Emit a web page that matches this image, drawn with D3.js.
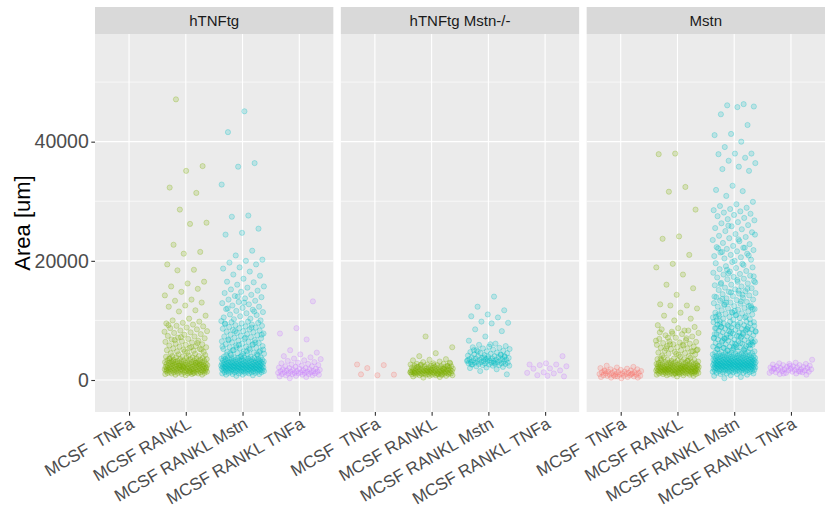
<!DOCTYPE html>
<html>
<head>
<meta charset="utf-8">
<script src="https://cdn.jsdelivr.net/npm/d3@7"></script>
<style>
  html, body { margin: 0; padding: 0; background: #ffffff; }
  svg { display: block; font-family: "Liberation Sans", Arial, sans-serif; }
</style>
</head>
<body>
<svg id="chart" width="833" height="512"></svg>
<script>
// ---------------- DATA (area values in thousands of um) ----------------
const facets = ["hTNFtg", "hTNFtg Mstn-/-", "Mstn"];
const treatments = ["MCSF  TNFa", "MCSF RANKL", "MCSF RANKL Mstn", "MCSF RANKL TNFa"];
const colors = ["#F8766D", "#7CAE00", "#00BFC4", "#C77CFF"];
const yTicks = [0, 20000, 40000];

// facet 1: hTNFtg
const hTNFtg_TNFa = [];
const hTNFtg_RANKL = [47.1,35.9,35.1,32.3,31.4,28.6,26.4,26.2,22.7,21.5,21.2,19.4,18.5,18.4,16.5,16.2,15.7,15.3,14.8,14.2,13.5,13.3,13.0,12.5,12.3,11.7,11.5,10.8,10.3,10.0,
 9.8,9.6,9.5,9.3,9.1,9.0,8.8,8.7,8.5,8.3,8.2,8.0,7.9,7.7,7.6,7.4,7.3,7.1,7.0,6.9,6.8,6.6,6.5,6.4,6.3,6.1,6.0,5.9,5.8,5.7,5.6,5.5,5.4,5.3,5.2,5.1,5.0,4.9,4.8,4.7,4.6,4.5,6.2,7.2,8.1,5.5,6.7,5.1,4.8,9.2,
 4.4,4.3,4.2,4.1,4.0,4.0,3.9,3.9,3.8,3.8,3.7,3.7,3.6,3.6,3.5,3.5,3.5,3.4,3.4,3.3,3.3,3.3,3.2,3.2,3.2,3.1,3.1,3.1,3.0,3.0,3.0,3.0,2.9,2.9,2.9,2.9,2.8,2.8,2.8,2.8,2.7,2.7,2.7,2.7,2.6,2.6,2.6,2.6,2.5,2.5,2.5,2.5,2.5,2.4,2.4,2.4,2.4,2.3,2.3,2.3,2.3,2.3,2.2,2.2,2.2,2.2,2.1,2.1,2.1,2.1,2.1,2.0,2.0,2.0,2.0,2.0,1.9,1.9,1.9,1.9,1.9,1.8,1.8,1.8,1.8,1.8,1.7,1.7,1.7,1.7,1.7,1.6,1.6,1.6,1.6,1.6,1.5,1.5,1.5,1.5,1.5,1.4,1.4,1.4,1.4,1.3,1.3,1.3,1.3,1.2,1.2,1.2,1.2,1.1,1.1,1.1,1.0,1.0,1.0,0.9,0.9,0.8,3.6,2.9,2.4,1.9,1.4,3.1,2.6,2.2,1.7,1.2];
const hTNFtg_Mstn = [45.1,41.6,36.4,35.8,32.8,27.6,27.4,25.4,24.7,24.4,21.7,20.9,20.2,20.0,19.7,19.4,18.9,18.7,18.2,17.7,17.5,17.0,16.5,16.4,16.0,15.7,15.5,15.2,15.0,
 14.8,14.6,14.3,14.1,13.9,13.7,13.5,13.3,13.1,12.9,12.7,12.5,12.3,12.1,11.9,11.8,11.6,11.4,11.2,11.0,10.9,10.7,10.5,10.3,10.2,10.0,13.0,12.0,11.5,14.0,
 9.9,9.8,9.7,9.6,9.5,9.4,9.3,9.2,9.1,9.0,8.9,8.8,8.7,8.6,8.5,8.4,8.3,8.2,8.1,8.0,7.9,7.8,7.7,7.6,7.5,7.4,7.3,7.2,7.1,7.0,6.9,6.8,6.7,6.6,6.5,6.4,6.3,6.2,6.1,6.0,5.9,5.8,5.7,5.6,5.5,5.4,5.3,5.2,5.1,5.0,4.9,4.8,4.7,4.6,4.5,4.4,4.3,4.2,4.1,4.0,9.5,8.8,8.2,7.6,7.1,6.7,6.3,5.9,5.6,5.3,5.0,4.7,4.4,4.2,6.0,5.5,5.1,4.8,4.5,4.3,
 3.9,3.9,3.9,3.8,3.8,3.8,3.7,3.7,3.7,3.6,3.6,3.6,3.5,3.5,3.5,3.5,3.4,3.4,3.4,3.4,3.3,3.3,3.3,3.3,3.2,3.2,3.2,3.2,3.1,3.1,3.1,3.1,3.0,3.0,3.0,3.0,3.0,2.9,2.9,2.9,2.9,2.9,2.8,2.8,2.8,2.8,2.8,2.7,2.7,2.7,2.7,2.7,2.6,2.6,2.6,2.6,2.6,2.5,2.5,2.5,2.5,2.5,2.5,2.4,2.4,2.4,2.4,2.4,2.4,2.3,2.3,2.3,2.3,2.3,2.3,2.2,2.2,2.2,2.2,2.2,2.2,2.1,2.1,2.1,2.1,2.1,2.1,2.0,2.0,2.0,2.0,2.0,2.0,1.9,1.9,1.9,1.9,1.9,1.9,1.8,1.8,1.8,1.8,1.8,1.8,1.7,1.7,1.7,1.7,1.7,1.6,1.6,1.6,1.6,1.6,1.5,1.5,1.5,1.5,1.5,1.4,1.4,1.4,1.4,1.3,1.3,1.3,1.3,1.2,1.2,1.2,1.1,1.1,1.1,1.0,1.0,0.9,0.9,0.8,0.7];
const hTNFtg_TNFa2 = [13.2,8.7,7.8,6.8,5.0,4.6,4.3,4.0,3.8,3.6,3.5,3.3,3.2,3.0,2.9,2.8,2.7,2.6,2.5,2.4,2.3,2.3,2.2,2.1,2.0,2.0,1.9,1.9,1.8,1.8,1.7,1.7,1.6,1.6,1.5,1.5,1.5,1.4,1.4,1.4,1.3,1.3,1.3,1.2,1.2,1.2,1.1,1.1,1.1,1.0,1.0,1.0,0.9,0.9,0.8,0.8,0.7,0.6,0.5,0.3];

// facet 2: hTNFtg Mstn-/-
const ko_TNFa = [2.6,2.5,2.0,0.9,0.8,0.95];
const ko_RANKL = [7.3,5.5,4.5,4.0,3.5,3.4,3.3,3.1,3.0,2.9,2.8,2.7,2.7,2.6,2.6,2.5,2.5,2.4,2.4,2.4,2.3,2.3,2.3,2.2,2.2,2.2,2.1,2.1,2.1,2.0,2.0,2.0,2.0,1.9,1.9,1.9,1.9,1.8,1.8,1.8,1.8,1.8,1.7,1.7,1.7,1.7,1.7,1.6,1.6,1.6,1.6,1.6,1.5,1.5,1.5,1.5,1.5,1.5,1.4,1.4,1.4,1.4,1.4,1.4,1.3,1.3,1.3,1.3,1.3,1.3,1.2,1.2,1.2,1.2,1.2,1.2,1.1,1.1,1.1,1.1,1.1,1.0,1.0,1.0,1.0,1.0,0.9,0.9,0.9,0.9,0.8,0.8,0.8,0.7,0.7,0.6,0.5,0.4,2.8,2.5,2.2,1.9,1.6,1.3,1.0,2.6,2.3,1.7,1.2,0.9];
const ko_Mstn = [14.0,12.3,11.7,11.0,10.7,10.5,9.8,9.6,9.5,8.5,8.2,7.3,6.6,6.1,5.9,5.7,5.6,5.5,5.4,5.3,5.2,5.1,5.0,4.9,4.8,4.7,4.6,4.5,4.5,4.4,4.3,4.2,4.2,4.1,4.0,4.0,3.9,3.9,3.8,3.8,3.7,3.7,3.6,3.6,3.5,3.5,3.5,3.4,3.4,3.4,3.3,3.3,3.3,3.2,3.2,3.2,3.1,3.1,3.1,3.0,3.0,3.0,2.9,2.9,2.9,2.8,2.8,2.8,2.7,2.7,2.7,2.6,2.6,2.5,2.5,2.4,2.4,2.3,2.2,2.1,2.0,1.8,1.5,0.95,6.0,5.0,4.3,3.8,3.3,2.9,4.8,4.0,3.6,2.6];
const ko_TNFa2 = [4.0,2.8,2.6,2.6,2.5,2.3,1.95,1.9,1.6,1.3,1.2,1.1,0.8,0.6,0.7];

// facet 3: Mstn
const mstn_TNFa = [2.4,2.2,2.1,2.0,1.9,1.8,1.8,1.7,1.6,1.6,1.5,1.5,1.4,1.4,1.3,1.3,1.3,1.2,1.2,1.2,1.1,1.1,1.1,1.0,1.0,1.0,0.9,0.9,0.9,0.8,0.8,0.8,0.7,0.7,0.7,0.6,0.6,0.5,0.5,0.4,0.4,0.3,1.5,1.0,0.6];
const mstn_RANKL = [38.0,37.9,32.4,31.6,28.6,24.1,23.7,21.0,19.5,18.9,17.7,16.0,15.4,14.3,12.7,12.5,12.5,12.0,11.3,10.8,10.3,10.0,9.2,8.3,7.1,
 8.9,8.7,8.5,8.3,8.1,7.9,7.7,7.5,7.3,7.1,6.9,6.7,6.5,6.4,6.3,6.2,6.1,6.0,5.9,5.8,5.7,5.6,5.5,5.4,5.3,5.2,5.1,5.0,4.9,4.8,4.7,4.6,4.5,4.4,4.3,4.2,4.1,4.0,7.8,6.6,5.9,5.3,4.8,4.4,8.0,7.0,6.0,5.0,
 3.9,3.8,3.7,3.6,3.5,3.5,3.4,3.4,3.3,3.3,3.2,3.2,3.1,3.1,3.0,3.0,3.0,2.9,2.9,2.9,2.8,2.8,2.8,2.7,2.7,2.7,2.6,2.6,2.6,2.6,2.5,2.5,2.5,2.5,2.4,2.4,2.4,2.4,2.3,2.3,2.3,2.3,2.3,2.2,2.2,2.2,2.2,2.2,2.1,2.1,2.1,2.1,2.1,2.0,2.0,2.0,2.0,2.0,2.0,1.9,1.9,1.9,1.9,1.9,1.9,1.8,1.8,1.8,1.8,1.8,1.8,1.7,1.7,1.7,1.7,1.7,1.7,1.6,1.6,1.6,1.6,1.6,1.6,1.5,1.5,1.5,1.5,1.5,1.5,1.4,1.4,1.4,1.4,1.4,1.3,1.3,1.3,1.3,1.3,1.2,1.2,1.2,1.2,1.2,1.1,1.1,1.1,1.1,1.0,1.0,1.0,1.0,0.9,0.9,0.9,0.8,0.8,0.7,0.6,3.6,3.2,2.8,2.4,2.0,1.7,1.4,1.1,2.6,2.2,1.8,1.5,1.2];
const mstn_Mstn = [46.3,46.1,45.9,45.8,44.6,42.8,41.3,41.1,40.0,39.1,38.0,38.0,37.9,37.3,36.8,36.4,35.8,35.4,35.1,32.6,31.9,31.7,30.9,29.9,29.5,29.2,28.9,28.7,28.5,28.3,28.1,27.9,27.7,27.5,27.2,27.0,26.8,26.5,26.3,26.0,25.8,25.5,25.3,25.0,24.8,24.5,24.2,24.0,23.8,23.5,23.3,23.0,22.8,22.5,22.3,22.2,22.0,21.8,21.6,21.4,21.2,21.0,20.8,20.6,20.4,20.2,20.0,22.1,22.2,25.9,24.4,23.6,21.5,20.9,
 19.8,19.6,19.5,19.1,18.9,18.8,18.6,18.3,18.2,18.0,17.8,17.7,17.5,17.3,17.2,17.0,16.9,16.6,16.5,16.3,16.2,16.0,15.9,15.7,15.5,15.4,15.2,15.1,14.9,14.8,14.6,14.5,14.4,14.2,14.1,13.9,13.8,13.7,13.5,13.4,13.3,13.1,13.0,12.9,12.8,12.6,12.5,12.4,12.3,12.1,12.0,11.9,11.8,11.7,11.5,11.4,11.3,11.2,11.1,11.0,10.9,10.8,10.7,10.6,10.5,10.4,10.3,10.2,10.1,10.0,19.3,18.5,17.4,16.8,16.1,15.3,14.7,14.0,13.2,12.7,12.2,11.6,11.0,10.5,17.9,16.4,15.0,13.6,12.4,11.3,10.6,14.3,13.0,11.9,10.9,
 9.9,9.8,9.8,9.7,9.6,9.5,9.5,9.4,9.3,9.2,9.2,9.1,9.0,8.9,8.9,8.8,8.7,8.6,8.6,8.5,8.4,8.3,8.3,8.2,8.1,8.0,8.0,7.9,7.8,7.7,7.7,7.6,7.5,7.4,7.4,7.3,7.2,7.1,7.1,7.0,6.9,6.8,6.8,6.7,6.6,6.5,6.5,6.4,6.3,6.2,6.2,6.1,6.0,5.9,5.9,5.8,5.7,5.6,5.6,5.5,5.4,5.3,5.3,5.2,5.1,5.0,9.7,9.3,8.9,8.5,8.1,7.7,7.3,6.9,6.5,6.1,5.7,5.3,9.0,8.2,7.4,6.6,5.8,5.1,8.7,7.9,7.1,6.3,5.5,9.4,8.6,7.8,7.0,6.2,5.4,6.0,5.6,5.2,
 4.9,4.9,4.8,4.8,4.7,4.7,4.6,4.6,4.5,4.5,4.5,4.4,4.4,4.4,4.3,4.3,4.3,4.2,4.2,4.2,4.1,4.1,4.1,4.0,4.0,4.0,4.0,3.9,3.9,3.9,3.9,3.8,3.8,3.8,3.8,3.7,3.7,3.7,3.7,3.6,3.6,3.6,3.6,3.5,3.5,3.5,3.5,3.5,3.4,3.4,3.4,3.4,3.4,3.3,3.3,3.3,3.3,3.3,3.2,3.2,3.2,3.2,3.2,3.1,3.1,3.1,3.1,3.1,3.0,3.0,3.0,3.0,3.0,3.0,2.9,2.9,2.9,2.9,2.9,2.9,2.8,2.8,2.8,2.8,2.8,2.8,2.7,2.7,2.7,2.7,2.7,2.7,2.6,2.6,2.6,2.6,2.6,2.6,2.5,2.5,2.5,2.5,2.5,2.5,2.5,2.4,2.4,2.4,2.4,2.4,2.4,2.3,2.3,2.3,2.3,2.3,2.3,2.2,2.2,2.2,2.2,2.2,2.2,2.1,2.1,2.1,2.1,2.1,2.1,2.0,2.0,2.0,2.0,2.0,2.0,1.9,1.9,1.9,1.9,1.9,1.8,1.8,1.8,1.8,1.8,1.7,1.7,1.7,1.7,1.7,1.6,1.6,1.6,1.6,1.5,1.5,1.5,1.5,1.4,1.4,1.4,1.3,1.3,1.3,1.2,1.2,1.1,1.1,1.0,1.0,0.9,0.8,0.7,0.5,0.3];
const mstn_TNFa2 = [3.4,2.9,2.8,2.7,2.7,2.6,2.5,2.5,2.4,2.3,2.3,2.2,2.2,2.1,2.1,2.0,2.0,1.9,1.9,1.8,1.8,1.8,1.7,1.7,1.6,1.6,1.5,1.5,1.5,1.4,1.4,1.3,1.3,1.2,1.2,1.1,1.0,0.9,2.4,1.9,1.4,1.1];

const groups = [
  [hTNFtg_TNFa, hTNFtg_RANKL, hTNFtg_Mstn, hTNFtg_TNFa2],
  [ko_TNFa, ko_RANKL, ko_Mstn, ko_TNFa2],
  [mstn_TNFa, mstn_RANKL, mstn_Mstn, mstn_TNFa2]
];

// ---------------- LAYOUT ----------------
const svg = d3.select("#chart");
const plotLeft = 95, plotRight = 825, gap = 7.5;
const stripTop = 7, panelTop = 34, panelBottom = 412;
const panelW = (plotRight - plotLeft - 2 * gap) / 3;

const y = d3.scaleLinear().domain([-5370, 58070]).range([panelBottom, panelTop]);
const minorTicks = [10000, 30000, 50000];

// jitter offsets (position only; deterministic low-discrepancy sequence)
function jitter(i, g) {
  const v = (i * 0.6180339887 + g * 0.2719) % 1;
  return (v - 0.5) * 2 * 0.38;
}

facets.forEach((name, f) => {
  const x0 = plotLeft + f * (panelW + gap);
  const x = d3.scalePoint().domain(treatments).range([x0, x0 + panelW]).padding(0.6);
  const step = x.step();
  const g = svg.append("g");

  g.append("rect").attr("x", x0).attr("y", panelTop).attr("width", panelW)
    .attr("height", panelBottom - panelTop).attr("fill", "#EBEBEB");

  g.selectAll(".ymin").data(minorTicks).enter().append("line")
    .attr("x1", x0).attr("x2", x0 + panelW)
    .attr("y1", d => y(d)).attr("y2", d => y(d))
    .attr("stroke", "#ffffff").attr("stroke-width", 0.6);
  g.selectAll(".ymaj").data(yTicks).enter().append("line")
    .attr("x1", x0).attr("x2", x0 + panelW)
    .attr("y1", d => y(d)).attr("y2", d => y(d))
    .attr("stroke", "#ffffff").attr("stroke-width", 1.1);
  g.selectAll(".xmaj").data(treatments).enter().append("line")
    .attr("x1", d => x(d)).attr("x2", d => x(d))
    .attr("y1", panelTop).attr("y2", panelBottom)
    .attr("stroke", "#ffffff").attr("stroke-width", 1.1);

  g.append("rect").attr("x", x0).attr("y", stripTop).attr("width", panelW)
    .attr("height", panelTop - stripTop).attr("fill", "#D9D9D9");
  g.append("text").attr("x", x0 + panelW / 2).attr("y", 26)
    .attr("text-anchor", "middle").attr("font-size", 15).attr("fill", "#1A1A1A")
    .text(name);

  const pts = [];
  groups[f].forEach((vals, t) => {
    vals.forEach((v, i) => pts.push({ t, v: v * 1000, i }));
  });
  pts.sort((a, b) => a.i - b.i || a.t - b.t);
  g.append("g").selectAll("circle").data(pts).enter().append("circle")
    .attr("cx", d => x(treatments[d.t]) + jitter(d.i, d.t + f * 4) * step)
    .attr("cy", d => y(d.v))
    .attr("r", 2.6)
    .attr("fill", d => colors[d.t]).attr("fill-opacity", 0.2)
    .attr("stroke", d => colors[d.t]).attr("stroke-opacity", 0.35).attr("stroke-width", 0.8);

  const xa = d3.axisBottom(x).tickSize(3.7).tickPadding(2).tickSizeOuter(0);
  const ax = g.append("g").attr("transform", `translate(0,${panelBottom})`).call(xa);
  ax.select(".domain").remove();
  ax.selectAll(".tick line").attr("stroke", "#333333").attr("stroke-width", 1.1);
  ax.selectAll(".tick text")
    .attr("font-size", 17).attr("fill", "#4D4D4D")
    .attr("font-family", "'Liberation Sans', Arial, sans-serif")
    .style("white-space", "pre")
    .attr("text-anchor", "end")
    .attr("dy", null).attr("y", null)
    .attr("transform", "translate(6,15) rotate(-30)");
});

const ya = d3.axisLeft(y).tickValues(yTicks).tickSize(3.7).tickPadding(2.5).tickFormat(d3.format("d"));
const ay = svg.append("g").attr("transform", `translate(${plotLeft},0)`).call(ya);
ay.select(".domain").remove();
ay.selectAll(".tick line").attr("stroke", "#333333").attr("stroke-width", 1.1);
ay.selectAll(".tick text").attr("font-size", 19.5).attr("fill", "#4D4D4D")
  .attr("font-family", "'Liberation Sans', Arial, sans-serif");

svg.append("text")
  .attr("transform", `translate(30,${(panelTop + panelBottom) / 2}) rotate(-90)`)
  .attr("text-anchor", "middle").attr("font-size", 22).attr("fill", "#000000")
  .text("Area [um]");
</script>
</body>
</html>
